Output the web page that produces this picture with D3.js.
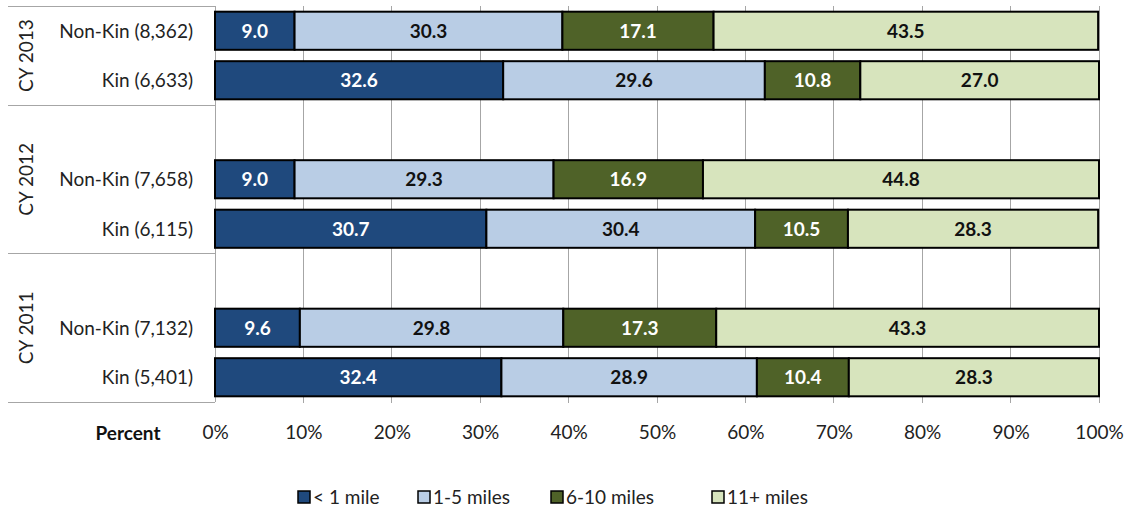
<!DOCTYPE html>
<html>
<head>
<meta charset="utf-8">
<script src="https://cdn.jsdelivr.net/npm/d3@7"></script>
<style>
  html, body { margin: 0; padding: 0; background: #fff; }
  svg { display: block; font-family: Lato, "Open Sans", sans-serif; }
</style>
</head>
<body>
<svg id="chart" width="1128" height="509"></svg>
<script>
// Distance bands (stack order, left to right)
const bands = ["< 1 mile", "1-5 miles", "6-10 miles", "11+ miles"];
const bandColors = ["#1f497d", "#b9cde5", "#4f6228", "#d7e4bd"];
const bandTextColors = ["#ffffff", "#111111", "#ffffff", "#111111"];

// Calendar-year groups, top to bottom
const years = ["CY 2013", "CY 2012", "CY 2011"];
// Placement groups within each year
const placements = ["Non-Kin", "Kin"];
const counts = {
  "CY 2013": ["8,362", "6,633"],
  "CY 2012": ["7,658", "6,115"],
  "CY 2011": ["7,132", "5,401"]
};

// Percent of placements in each band
const nonKin2013 = [9.0, 30.3, 17.1, 43.5];
const kin2013    = [32.6, 29.6, 10.8, 27.0];
const nonKin2012 = [9.0, 29.3, 16.9, 44.8];
const kin2012    = [30.7, 30.4, 10.5, 28.3];
const nonKin2011 = [9.6, 29.8, 17.3, 43.3];
const kin2011    = [32.4, 28.9, 10.4, 28.3];

const xTicks = [0, 10, 20, 30, 40, 50, 60, 70, 80, 90, 100];

// Row slots: blank spacer rows separate the year groups
const rows = [
  { key: "r0", year: "CY 2013", label: placements[0] + " (" + counts["CY 2013"][0] + ")", values: nonKin2013 },
  { key: "r1", year: "CY 2013", label: placements[1] + " (" + counts["CY 2013"][1] + ")", values: kin2013 },
  { key: "s1", year: "CY 2012", spacer: true },
  { key: "r2", year: "CY 2012", label: placements[0] + " (" + counts["CY 2012"][0] + ")", values: nonKin2012 },
  { key: "r3", year: "CY 2012", label: placements[1] + " (" + counts["CY 2012"][1] + ")", values: kin2012 },
  { key: "s2", year: "CY 2011", spacer: true },
  { key: "r4", year: "CY 2011", label: placements[0] + " (" + counts["CY 2011"][0] + ")", values: nonKin2011 },
  { key: "r5", year: "CY 2011", label: placements[1] + " (" + counts["CY 2011"][1] + ")", values: kin2011 }
];

const svg = d3.select("#chart");
const plot = { left: 215, right: 1099, top: 6, bottom: 402 };
const labelBoxLeft = 8;
const fs = 19;

const x = d3.scaleLinear().domain([0, 100]).range([plot.left, plot.right]);
const y = d3.scaleBand().domain(rows.map(r => r.key))
  .range([plot.top, plot.bottom]).paddingInner(0.23).paddingOuter(0.115);
const slot = (plot.bottom - plot.top) / rows.length;

// Vertical gridlines
svg.append("g").selectAll("line").data(xTicks.slice(1)).join("line")
  .attr("x1", d => x(d)).attr("x2", d => x(d))
  .attr("y1", plot.top).attr("y2", plot.bottom + 1)
  .attr("stroke", "#a6a6a6").attr("stroke-width", 1)
  .attr("shape-rendering", "crispEdges");

// Category-label frame: top line, group separators, left axis line
const groupBounds = years.map(yr => {
  const idx = rows.map((r, i) => r.year === yr ? i : -1).filter(i => i >= 0);
  return { year: yr, y0: plot.top + idx[0] * slot, y1: plot.top + (idx[idx.length - 1] + 1) * slot };
});
const frame = svg.append("g").attr("stroke", "#a6a6a6").attr("stroke-width", 1)
  .attr("shape-rendering", "crispEdges");
frame.append("line").attr("x1", labelBoxLeft).attr("x2", plot.left)
  .attr("y1", plot.top).attr("y2", plot.top);
frame.selectAll("line.sep").data(groupBounds).join("line").attr("class", "sep")
  .attr("x1", labelBoxLeft).attr("x2", plot.left)
  .attr("y1", d => d.y1).attr("y2", d => d.y1);
frame.append("line").attr("x1", plot.left).attr("x2", plot.left)
  .attr("y1", plot.top).attr("y2", plot.bottom);

// Stacked bars
const dataRows = rows.filter(r => !r.spacer);
const segs = [];
dataRows.forEach(r => {
  let acc = 0;
  r.values.forEach((v, i) => {
    segs.push({ row: r.key, band: i, x0: acc, x1: acc + v, v });
    acc += v;
  });
});

svg.append("g").selectAll("rect").data(segs).join("rect")
  .attr("x", d => x(d.x0)).attr("y", d => y(d.row))
  .attr("width", d => x(d.x1) - x(d.x0)).attr("height", y.bandwidth())
  .attr("fill", d => bandColors[d.band])
  .attr("stroke", "#000").attr("stroke-width", 2);

svg.append("g").selectAll("text").data(segs).join("text")
  .attr("x", d => (x(d.x0) + x(d.x1)) / 2)
  .attr("y", d => y(d.row) + y.bandwidth() / 2)
  .attr("dy", "0.36em").attr("text-anchor", "middle")
  .attr("font-size", fs).attr("font-weight", "bold")
  .attr("fill", d => bandTextColors[d.band])
  .text(d => d.v.toFixed(1));

// Row labels
svg.append("g").selectAll("text").data(dataRows).join("text")
  .attr("x", 193).attr("y", d => y(d.key) + y.bandwidth() / 2)
  .attr("dy", "0.36em").attr("text-anchor", "end")
  .attr("font-size", fs).attr("fill", "#222")
  .text(d => d.label);

// Year group labels (rotated)
svg.append("g").selectAll("text").data(groupBounds).join("text")
  .attr("transform", d => `translate(26,${(d.y0 + d.y1) / 2}) rotate(-90)`)
  .attr("dy", "0.36em").attr("text-anchor", "middle")
  .attr("font-size", fs).attr("fill", "#222")
  .text(d => d.year);

// X axis: percent labels under the gridlines
const xAxis = d3.axisBottom(x).tickValues(xTicks).tickSize(0).tickPadding(0)
  .tickFormat(d => d + "%");
const ax = svg.append("g").attr("transform", `translate(0,${plot.bottom})`).call(xAxis);
ax.select(".domain").remove();
ax.selectAll("text").attr("font-size", fs).attr("fill", "#222")
  .attr("font-family", "Lato, 'Open Sans', sans-serif")
  .attr("y", 37).attr("dy", 0);

svg.append("text").attr("x", 128).attr("y", 440).attr("text-anchor", "middle")
  .attr("font-size", fs).attr("font-weight", "bold").attr("fill", "#111")
  .text("Percent");

// Legend
const legendX = [298, 418, 551, 712];
const lg = svg.append("g").selectAll("g").data(bands).join("g")
  .attr("transform", (d, i) => `translate(${legendX[i]},491)`);
lg.append("rect").attr("width", 12).attr("height", 12)
  .attr("fill", (d, i) => bandColors[i]).attr("stroke", "#000").attr("stroke-width", 1.5);
lg.append("text").attr("x", 15).attr("y", 6).attr("dy", "0.36em")
  .attr("font-size", fs).attr("fill", "#222").text(d => d);
</script>
</body>
</html>
